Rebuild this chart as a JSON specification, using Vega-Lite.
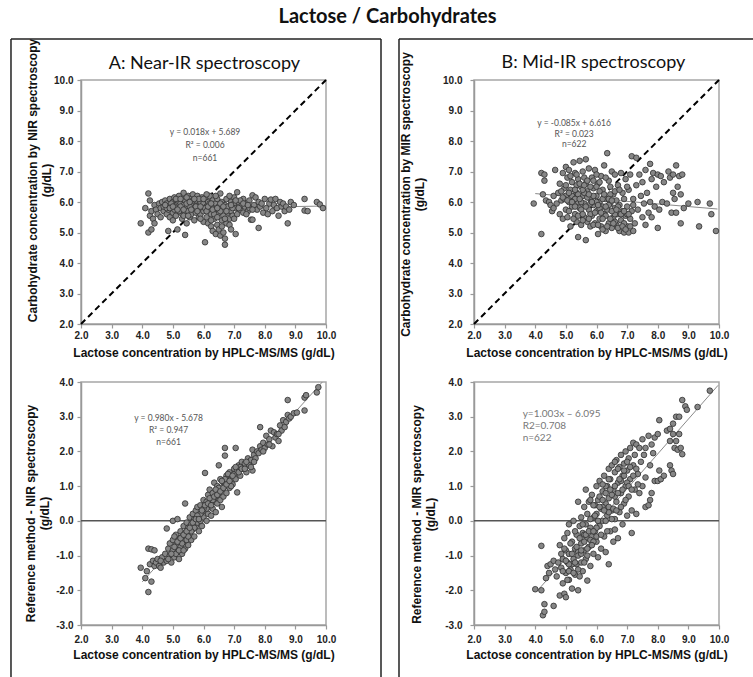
{
"$schema": "https://vega.github.io/schema/vega-lite/v6.json",
"padding": {"left": 9, "top": 6, "right": 0, "bottom": 0},
"background": "white",
"title": {"text": "Lactose / Carbohydrates", "font": "Lato", "fontSize": 20, "fontWeight": "bold", "color": "#111", "offset": 9, "anchor": "start", "dx": 269},
"bounds": "flush",
"columns": 2,
"spacing": {"row": 58, "column": 148},
"datasets": {
"one": [{"k": 1}],
"aTop": [
{"lac":3.95,"val":5.3},{"lac":4.1,"val":5.8},{"lac":4.2,"val":6.28},{"lac":4.2,"val":5.0},{"lac":4.25,"val":5.55},{"lac":4.25,"val":6.05},{"lac":4.3,"val":5.1},{"lac":4.3,"val":5.7},{"lac":4.35,"val":5.45},{"lac":4.4,"val":5.3},{"lac":4.4,"val":5.9},{"lac":4.45,"val":5.75},{"lac":4.5,"val":5.6},{"lac":4.55,"val":5.95},{"lac":4.6,"val":5.8},{"lac":4.6,"val":5.5},
{"lac":4.65,"val":6.0},{"lac":4.7,"val":5.7},{"lac":4.7,"val":5.85},{"lac":4.75,"val":6.05},{"lac":4.8,"val":5.6},{"lac":4.8,"val":5.95},{"lac":4.85,"val":5.05},{"lac":4.85,"val":5.75},{"lac":4.9,"val":6.1},{"lac":4.9,"val":5.5},{"lac":4.95,"val":5.85},{"lac":5.0,"val":5.65},{"lac":5.0,"val":6.0},{"lac":5.0,"val":5.4},
{"lac":5.05,"val":6.15},{"lac":5.05,"val":5.75},{"lac":5.1,"val":5.9},{"lac":5.1,"val":5.55},{"lac":5.15,"val":6.05},{"lac":5.15,"val":5.1},{"lac":5.2,"val":5.8},{"lac":5.2,"val":6.2},{"lac":5.25,"val":5.65},{"lac":5.25,"val":5.95},{"lac":5.3,"val":6.1},{"lac":5.3,"val":5.45},{"lac":5.3,"val":5.75},{"lac":5.35,"val":6.3},{"lac":5.35,"val":5.9},{"lac":5.4,"val":5.6},{"lac":5.4,"val":4.92},{"lac":5.4,"val":6.05},{"lac":5.45,"val":5.8},{"lac":5.45,"val":5.3},{"lac":5.5,"val":6.2},{"lac":5.5,"val":5.7},{"lac":5.5,"val":5.95},
{"lac":5.55,"val":5.5},{"lac":5.55,"val":6.1},{"lac":5.6,"val":5.85},{"lac":5.6,"val":5.6},{"lac":5.65,"val":6.25},{"lac":5.65,"val":5.75},{"lac":5.7,"val":5.95},{"lac":5.7,"val":5.4},{"lac":5.75,"val":6.05},{"lac":5.75,"val":5.65},{"lac":5.8,"val":5.85},{"lac":5.8,"val":6.2},{"lac":5.85,"val":5.5},{"lac":5.85,"val":5.75},{"lac":5.9,"val":6.0},{"lac":5.9,"val":5.6},{"lac":5.95,"val":6.15},{"lac":5.95,"val":5.8},{"lac":6.0,"val":5.35},{"lac":6.0,"val":5.95},{"lac":6.0,"val":5.7},
{"lac":6.05,"val":6.1},{"lac":6.05,"val":4.68},{"lac":6.1,"val":5.85},{"lac":6.1,"val":5.5},{"lac":6.15,"val":6.0},{"lac":6.15,"val":5.3},{"lac":6.2,"val":5.75},{"lac":6.2,"val":6.2},{"lac":6.25,"val":5.6},{"lac":6.25,"val":5.2},{"lac":6.3,"val":5.9},{"lac":6.3,"val":5.05},{"lac":6.3,"val":6.05},{"lac":6.35,"val":5.45},{"lac":6.35,"val":5.75},{"lac":6.4,"val":4.95},{"lac":6.4,"val":5.95},{"lac":6.45,"val":5.25},{"lac":6.45,"val":6.1},{"lac":6.5,"val":5.65},{"lac":6.5,"val":5.1},{"lac":6.5,"val":5.85},
{"lac":6.55,"val":4.9},{"lac":6.55,"val":6.28},{"lac":6.6,"val":5.4},{"lac":6.6,"val":5.75},{"lac":6.6,"val":6.0},{"lac":6.65,"val":5.0},{"lac":6.65,"val":5.55},{"lac":6.7,"val":4.6},{"lac":6.7,"val":4.8},{"lac":6.7,"val":5.9},{"lac":6.75,"val":5.3},{"lac":6.75,"val":6.1},{"lac":6.8,"val":5.65},{"lac":6.8,"val":5.85},{"lac":6.85,"val":5.45},{"lac":6.9,"val":6.0},{"lac":6.9,"val":5.7},{"lac":6.95,"val":5.55},{"lac":7.0,"val":5.95},{"lac":7.0,"val":6.15},
{"lac":7.05,"val":4.95},{"lac":7.05,"val":5.8},{"lac":7.1,"val":6.32},{"lac":7.1,"val":5.6},{"lac":7.15,"val":6.0},{"lac":7.2,"val":5.75},{"lac":7.25,"val":5.9},{"lac":7.3,"val":5.65},{"lac":7.3,"val":6.1},{"lac":7.35,"val":5.85},{"lac":7.4,"val":5.95},{"lac":7.45,"val":5.7},{"lac":7.5,"val":6.05},{"lac":7.5,"val":5.8},
{"lac":7.55,"val":5.42},{"lac":7.6,"val":5.42},{"lac":7.6,"val":6.22},{"lac":7.65,"val":5.9},{"lac":7.7,"val":6.15},{"lac":7.75,"val":5.75},{"lac":7.8,"val":5.15},{"lac":7.8,"val":6.0},{"lac":7.85,"val":5.85},{"lac":7.9,"val":5.95},{"lac":7.95,"val":5.65},{"lac":8.0,"val":6.1},
{"lac":8.05,"val":5.8},{"lac":8.1,"val":5.6},{"lac":8.15,"val":5.95},{"lac":8.2,"val":6.08},{"lac":8.25,"val":5.7},{"lac":8.3,"val":5.9},{"lac":8.35,"val":6.1},{"lac":8.4,"val":5.8},{"lac":8.45,"val":5.55},{"lac":8.5,"val":6.0},{"lac":8.55,"val":5.85},{"lac":8.6,"val":5.95},{"lac":8.65,"val":5.7},{"lac":8.7,"val":5.85},{"lac":8.75,"val":5.3},{"lac":8.8,"val":5.75},{"lac":8.85,"val":6.0},{"lac":8.95,"val":5.9},
{"lac":9.3,"val":6.1},{"lac":9.3,"val":5.72},{"lac":9.4,"val":5.7},{"lac":9.7,"val":6.0},{"lac":9.8,"val":5.92},{"lac":9.9,"val":5.8},
{"lac":4.95,"val":5.95},{"lac":5.05,"val":5.85},{"lac":5.2,"val":5.7},{"lac":5.35,"val":5.55},{"lac":5.45,"val":6.15},{"lac":5.6,"val":5.95},{"lac":5.75,"val":5.85},{"lac":5.85,"val":6.1},{"lac":6.05,"val":5.8},{"lac":6.2,"val":5.95},{"lac":6.35,"val":5.6},{"lac":6.4,"val":6.2},{"lac":6.6,"val":5.2},{"lac":6.85,"val":6.2},{"lac":7.0,"val":5.45},{"lac":7.2,"val":6.05},{"lac":7.4,"val":5.6},{"lac":5.25,"val":5.85},{"lac":5.55,"val":5.85},{"lac":5.9,"val":5.45},{"lac":6.1,"val":6.25},{"lac":6.55,"val":5.7},{"lac":4.8,"val":5.8},{"lac":5.65,"val":6.05},{"lac":6.95,"val":5.8},
{"lac":4.75,"val":5.9},{"lac":4.9,"val":5.8},{"lac":5.0,"val":5.85},{"lac":5.1,"val":6.1},{"lac":5.15,"val":5.75},{"lac":5.25,"val":6.1},{"lac":5.35,"val":5.75},{"lac":5.45,"val":5.95},{"lac":5.55,"val":6.0},{"lac":5.6,"val":5.75},{"lac":5.7,"val":6.1},{"lac":5.8,"val":5.7},{"lac":5.9,"val":5.85},{"lac":6.0,"val":6.1},{"lac":6.1,"val":5.7},{"lac":6.15,"val":5.85},{"lac":6.25,"val":5.95},{"lac":6.3,"val":5.75},{"lac":6.45,"val":5.8},{"lac":6.55,"val":5.95},{"lac":6.65,"val":5.85},{"lac":6.75,"val":5.7},{"lac":6.9,"val":5.9},{"lac":7.05,"val":6.05},{"lac":7.15,"val":5.8},{"lac":7.3,"val":5.95},{"lac":7.45,"val":5.9},{"lac":7.6,"val":5.75},{"lac":5.5,"val":5.55},{"lac":6.25,"val":5.4},{"lac":6.45,"val":5.5},{"lac":6.7,"val":5.45},{"lac":6.85,"val":5.25},{"lac":6.9,"val":5.1}
],
"aBot": [
{"lac":3.95,"val":-1.35},{"lac":4.1,"val":-1.65},{"lac":4.15,"val":-1.45},{"lac":4.2,"val":-2.05},{"lac":4.2,"val":-0.8},{"lac":4.25,"val":-1.25},{"lac":4.3,"val":-0.82},{"lac":4.3,"val":-1.75},{"lac":4.35,"val":-1.15},{"lac":4.4,"val":-0.85},{"lac":4.4,"val":-1.3},{"lac":4.45,"val":-1.2},{"lac":4.5,"val":-1.1},{"lac":4.55,"val":-1.3},{"lac":4.6,"val":-1.35},{"lac":4.65,"val":-1.05},{"lac":4.7,"val":-1.2},{"lac":4.75,"val":-0.95},{"lac":4.8,"val":-0.22},{"lac":4.8,"val":-1.15},{"lac":4.85,"val":-0.8},{"lac":4.9,"val":-1.0},{"lac":4.9,"val":-0.65},{"lac":4.95,"val":-1.2},{"lac":5.0,"val":0.0},{"lac":5.0,"val":-0.85},{"lac":5.0,"val":-0.55},{"lac":5.05,"val":-1.05},{"lac":5.1,"val":-0.7},{"lac":5.1,"val":-0.4},{"lac":5.15,"val":-0.9},{"lac":5.15,"val":0.05},{"lac":5.2,"val":-0.55},{"lac":5.2,"val":-1.1},{"lac":5.25,"val":-0.3},{"lac":5.25,"val":-0.75},{"lac":5.3,"val":-0.95},{"lac":5.3,"val":-0.45},{"lac":5.35,"val":-0.6},{"lac":5.35,"val":-0.15},{"lac":5.4,"val":0.5},{"lac":5.4,"val":-0.8},{"lac":5.4,"val":-0.35},{"lac":5.45,"val":-0.05},{"lac":5.45,"val":-0.55},{"lac":5.5,"val":-0.2},{"lac":5.5,"val":-0.7},{"lac":5.55,"val":0.1},{"lac":5.55,"val":-0.4},{"lac":5.6,"val":-0.1},{"lac":5.6,"val":-0.55},{"lac":5.65,"val":0.2},{"lac":5.65,"val":-0.25},{"lac":5.7,"val":-0.45},{"lac":5.7,"val":0.05},{"lac":5.75,"val":0.3},{"lac":5.75,"val":-0.15},{"lac":5.8,"val":-0.05},{"lac":5.8,"val":0.4},{"lac":5.85,"val":0.15},{"lac":5.85,"val":-0.3},{"lac":5.9,"val":0.0},{"lac":5.9,"val":0.45},{"lac":5.95,"val":0.25},{"lac":5.95,"val":-0.15},{"lac":6.0,"val":0.1},{"lac":6.0,"val":0.6},{"lac":6.05,"val":1.38},{"lac":6.05,"val":0.3},{"lac":6.1,"val":0.0},{"lac":6.1,"val":0.55},{"lac":6.15,"val":0.75},{"lac":6.15,"val":0.2},{"lac":6.2,"val":0.4},{"lac":6.2,"val":0.9},{"lac":6.25,"val":0.6},{"lac":6.25,"val":0.15},{"lac":6.3,"val":0.8},{"lac":6.3,"val":0.35},{"lac":6.35,"val":1.1},{"lac":6.35,"val":0.55},{"lac":6.4,"val":0.7},{"lac":6.4,"val":0.25},{"lac":6.45,"val":1.0},{"lac":6.45,"val":0.5},{"lac":6.5,"val":1.6},{"lac":6.5,"val":0.8},{"lac":6.55,"val":0.6},{"lac":6.55,"val":1.2},{"lac":6.6,"val":0.9},{"lac":6.6,"val":0.4},{"lac":6.65,"val":1.1},{"lac":6.65,"val":0.7},{"lac":6.7,"val":2.1},{"lac":6.7,"val":1.88},{"lac":6.7,"val":1.0},{"lac":6.75,"val":0.8},{"lac":6.75,"val":1.3},{"lac":6.8,"val":1.1},{"lac":6.85,"val":0.95},{"lac":6.85,"val":1.4},{"lac":6.9,"val":1.2},{"lac":6.95,"val":1.05},{"lac":7.0,"val":1.35},{"lac":7.0,"val":1.5},{"lac":7.05,"val":2.1},{"lac":7.05,"val":1.2},{"lac":7.1,"val":0.82},{"lac":7.1,"val":1.45},{"lac":7.15,"val":1.6},{"lac":7.2,"val":1.3},{"lac":7.25,"val":1.7},{"lac":7.3,"val":1.5},{"lac":7.35,"val":1.65},{"lac":7.4,"val":1.4},{"lac":7.45,"val":1.8},{"lac":7.5,"val":1.6},{"lac":7.55,"val":1.75},{"lac":7.6,"val":2.05},{"lac":7.6,"val":1.45},{"lac":7.65,"val":1.9},{"lac":7.7,"val":1.8},{"lac":7.75,"val":2.0},{"lac":7.8,"val":1.95},{"lac":7.85,"val":2.7},{"lac":7.85,"val":2.15},{"lac":7.9,"val":2.05},{"lac":7.95,"val":2.25},{"lac":8.0,"val":2.1},{"lac":8.05,"val":2.45},{"lac":8.1,"val":2.2},{"lac":8.15,"val":2.35},{"lac":8.2,"val":2.6},{"lac":8.25,"val":2.15},{"lac":8.3,"val":2.55},{"lac":8.35,"val":2.4},{"lac":8.4,"val":2.5},{"lac":8.45,"val":2.3},{"lac":8.5,"val":2.75},{"lac":8.55,"val":2.6},{"lac":8.6,"val":2.9},{"lac":8.65,"val":2.7},{"lac":8.7,"val":2.85},{"lac":8.75,"val":3.48},{"lac":8.75,"val":3.05},{"lac":8.8,"val":2.95},{"lac":8.85,"val":3.0},{"lac":8.95,"val":3.1},{"lac":9.05,"val":3.12},{"lac":9.3,"val":3.18},{"lac":9.3,"val":3.55},{"lac":9.35,"val":3.62},{"lac":9.7,"val":3.7},{"lac":9.75,"val":3.85},
{"lac":5.1,"val":-0.95},{"lac":5.3,"val":-0.65},{"lac":5.5,"val":-0.45},{"lac":5.7,"val":-0.2},{"lac":5.9,"val":0.2},{"lac":6.1,"val":0.35},{"lac":6.3,"val":0.6},{"lac":6.5,"val":0.95},{"lac":6.7,"val":1.2},{"lac":6.9,"val":1.0},{"lac":7.2,"val":1.55},{"lac":7.4,"val":1.7},{"lac":5.6,"val":-0.3},{"lac":5.8,"val":0.15},{"lac":6.0,"val":0.35},{"lac":6.2,"val":0.65},{"lac":6.4,"val":0.9},{"lac":6.6,"val":1.15},{"lac":4.95,"val":-0.95},{"lac":5.2,"val":-0.85},{"lac":6.8,"val":1.35},{"lac":7.05,"val":1.55},
{"lac":5.05,"val":-0.75},{"lac":5.15,"val":-0.6},{"lac":5.25,"val":-0.5},{"lac":5.35,"val":-0.4},{"lac":5.45,"val":-0.3},{"lac":5.55,"val":-0.2},{"lac":5.65,"val":-0.05},{"lac":5.75,"val":0.05},{"lac":5.85,"val":0.05},{"lac":5.95,"val":0.3},{"lac":6.05,"val":0.45},{"lac":6.15,"val":0.5},{"lac":6.25,"val":0.45},{"lac":6.35,"val":0.7},{"lac":6.45,"val":0.75},{"lac":6.55,"val":0.85},{"lac":6.65,"val":0.95},{"lac":6.75,"val":1.05},{"lac":6.85,"val":1.15},{"lac":6.95,"val":1.3},{"lac":7.15,"val":1.4},{"lac":7.25,"val":1.5},{"lac":7.35,"val":1.5},{"lac":7.55,"val":1.55},{"lac":7.65,"val":1.7},{"lac":7.95,"val":2.0},{"lac":8.15,"val":2.2},{"lac":8.45,"val":2.5},{"lac":4.6,"val":-1.15},{"lac":4.85,"val":-1.1},{"lac":5.05,"val":-0.45},{"lac":5.35,"val":-0.85}
],
"bTop": [
{"lac":3.95,"val":5.95},{"lac":4.2,"val":6.95},{"lac":4.2,"val":4.95},{"lac":4.25,"val":6.25},{"lac":4.3,"val":6.7},{"lac":4.3,"val":6.9},{"lac":4.35,"val":6.05},{"lac":4.45,"val":6.0},{"lac":4.5,"val":5.9},{"lac":4.55,"val":5.7},{"lac":4.6,"val":5.8},{"lac":4.6,"val":6.2},{"lac":4.65,"val":7.05},{"lac":4.7,"val":5.95},{"lac":4.75,"val":6.3},{"lac":4.8,"val":5.6},{"lac":4.8,"val":6.6},{"lac":4.85,"val":6.05},{"lac":4.9,"val":6.95},{"lac":4.9,"val":5.45},{"lac":4.95,"val":6.45},{"lac":5.0,"val":5.75},{"lac":5.0,"val":7.15},{"lac":5.0,"val":6.2},{"lac":5.05,"val":5.5},{"lac":5.05,"val":6.8},{"lac":5.1,"val":6.0},{"lac":5.1,"val":7.05},{"lac":5.15,"val":5.2},{"lac":5.15,"val":6.4},{"lac":5.2,"val":6.65},{"lac":5.2,"val":5.85},{"lac":5.25,"val":6.15},{"lac":5.25,"val":7.3},{"lac":5.3,"val":5.6},{"lac":5.3,"val":6.95},{"lac":5.35,"val":6.3},{"lac":5.35,"val":5.35},{"lac":5.4,"val":4.85},{"lac":5.4,"val":6.0},{"lac":5.4,"val":6.75},{"lac":5.45,"val":7.35},{"lac":5.45,"val":5.8},{"lac":5.5,"val":6.5},{"lac":5.5,"val":5.25},{"lac":5.55,"val":6.2},{"lac":5.55,"val":7.0},{"lac":5.6,"val":5.5},{"lac":5.6,"val":5.95},{"lac":5.65,"val":4.75},{"lac":5.65,"val":7.4},{"lac":5.65,"val":6.6},{"lac":5.7,"val":5.35},{"lac":5.7,"val":6.35},{"lac":5.75,"val":5.75},{"lac":5.75,"val":7.1},{"lac":5.8,"val":6.1},{"lac":5.8,"val":5.2},{"lac":5.85,"val":6.8},{"lac":5.85,"val":5.55},{"lac":5.9,"val":6.45},{"lac":5.9,"val":5.9},{"lac":5.95,"val":7.05},{"lac":5.95,"val":5.3},{"lac":6.0,"val":6.2},{"lac":6.0,"val":5.7},{"lac":6.05,"val":4.95},{"lac":6.05,"val":6.6},{"lac":6.1,"val":5.45},{"lac":6.1,"val":6.0},{"lac":6.15,"val":6.85},{"lac":6.15,"val":5.2},{"lac":6.2,"val":5.85},{"lac":6.2,"val":6.4},{"lac":6.25,"val":7.2},{"lac":6.25,"val":5.6},{"lac":6.3,"val":5.05},{"lac":6.3,"val":6.1},{"lac":6.35,"val":7.6},{"lac":6.35,"val":5.75},{"lac":6.4,"val":6.7},{"lac":6.4,"val":5.3},{"lac":6.45,"val":5.95},{"lac":6.45,"val":6.5},{"lac":6.5,"val":5.15},{"lac":6.5,"val":7.0},{"lac":6.55,"val":5.5},{"lac":6.55,"val":6.25},{"lac":6.6,"val":5.8},{"lac":6.6,"val":6.9},{"lac":6.65,"val":5.25},{"lac":6.65,"val":6.05},{"lac":6.7,"val":5.6},{"lac":6.7,"val":6.55},{"lac":6.75,"val":5.05},{"lac":6.75,"val":5.9},{"lac":6.8,"val":6.95},{"lac":6.8,"val":5.4},{"lac":6.85,"val":6.3},{"lac":6.85,"val":5.7},{"lac":6.9,"val":5.0},{"lac":6.9,"val":6.1},{"lac":6.95,"val":5.55},{"lac":6.95,"val":6.75},{"lac":7.0,"val":5.2},{"lac":7.0,"val":5.85},{"lac":7.05,"val":6.4},{"lac":7.05,"val":5.0},{"lac":7.1,"val":6.9},{"lac":7.1,"val":5.45},{"lac":7.15,"val":7.5},{"lac":7.15,"val":5.7},{"lac":7.2,"val":6.1},{"lac":7.2,"val":5.05},{"lac":7.25,"val":5.3},{"lac":7.3,"val":7.45},{"lac":7.3,"val":6.55},{"lac":7.35,"val":5.75},{"lac":7.4,"val":6.9},{"lac":7.45,"val":6.2},{"lac":7.5,"val":5.5},{"lac":7.5,"val":6.65},{"lac":7.55,"val":5.95},{"lac":7.6,"val":7.05},{"lac":7.6,"val":5.25},{"lac":7.65,"val":6.3},{"lac":7.7,"val":5.65},{"lac":7.75,"val":7.25},{"lac":7.75,"val":6.0},{"lac":7.8,"val":5.5},{"lac":7.8,"val":6.75},{"lac":7.85,"val":6.95},{"lac":7.9,"val":5.85},{"lac":7.95,"val":6.5},{"lac":8.0,"val":5.15},{"lac":8.0,"val":6.9},{"lac":8.05,"val":5.75},{"lac":8.1,"val":6.85},{"lac":8.15,"val":6.0},{"lac":8.2,"val":6.65},{"lac":8.3,"val":5.95},{"lac":8.35,"val":7.0},{"lac":8.4,"val":6.8},{"lac":8.45,"val":5.65},{"lac":8.5,"val":6.3},{"lac":8.5,"val":6.9},{"lac":8.55,"val":6.1},{"lac":8.6,"val":7.2},{"lac":8.6,"val":5.65},{"lac":8.65,"val":6.5},{"lac":8.7,"val":6.85},{"lac":8.75,"val":5.3},{"lac":8.75,"val":6.25},{"lac":8.8,"val":6.9},{"lac":8.85,"val":5.8},{"lac":9.0,"val":5.95},{"lac":9.3,"val":6.0},{"lac":9.35,"val":5.2},{"lac":9.7,"val":5.95},{"lac":9.75,"val":5.6},{"lac":9.9,"val":5.05},
{"lac":5.2,"val":6.2},{"lac":5.4,"val":6.25},{"lac":5.6,"val":6.3},{"lac":5.8,"val":5.95},{"lac":6.0,"val":6.0},{"lac":6.2,"val":6.1},{"lac":6.4,"val":5.9},{"lac":6.6,"val":5.6},{"lac":5.3,"val":6.1},{"lac":5.5,"val":6.0},{"lac":5.7,"val":6.15},{"lac":5.9,"val":6.2},{"lac":6.1,"val":5.8},{"lac":6.3,"val":5.55},{"lac":6.5,"val":5.7},{"lac":6.7,"val":5.85},{"lac":5.1,"val":6.3},{"lac":5.6,"val":6.8},{"lac":6.0,"val":6.5},{"lac":6.3,"val":6.8},{"lac":5.8,"val":5.6},{"lac":6.2,"val":5.45},{"lac":6.6,"val":5.35},{"lac":6.9,"val":5.3},{"lac":7.0,"val":5.6},{"lac":4.95,"val":6.1},{"lac":5.35,"val":6.55},{"lac":6.45,"val":6.25},
{"lac":4.85,"val":6.35},{"lac":4.9,"val":6.15},{"lac":5.0,"val":6.55},{"lac":5.05,"val":6.05},{"lac":5.1,"val":5.7},{"lac":5.15,"val":6.85},{"lac":5.2,"val":6.0},{"lac":5.25,"val":5.45},{"lac":5.3,"val":6.4},{"lac":5.3,"val":5.85},{"lac":5.35,"val":6.9},{"lac":5.4,"val":5.55},{"lac":5.45,"val":6.1},{"lac":5.45,"val":6.6},{"lac":5.5,"val":5.75},{"lac":5.55,"val":5.4},{"lac":5.55,"val":6.4},{"lac":5.6,"val":6.55},{"lac":5.65,"val":5.85},{"lac":5.7,"val":6.7},{"lac":5.75,"val":6.25},{"lac":5.75,"val":5.45},{"lac":5.8,"val":6.5},{"lac":5.85,"val":6.0},{"lac":5.9,"val":5.25},{"lac":5.9,"val":6.7},{"lac":5.95,"val":5.65},{"lac":6.0,"val":6.9},{"lac":6.05,"val":5.9},{"lac":6.05,"val":5.25},{"lac":6.1,"val":6.35},{"lac":6.15,"val":5.65},{"lac":6.2,"val":5.1},{"lac":6.25,"val":6.25},{"lac":6.3,"val":5.85},{"lac":6.35,"val":5.2},{"lac":6.4,"val":6.1},{"lac":6.45,"val":5.45},{"lac":6.5,"val":6.05},{"lac":6.55,"val":5.3},{"lac":6.6,"val":6.35},{"lac":6.65,"val":5.75},{"lac":6.7,"val":5.15},{"lac":6.75,"val":6.4},{"lac":6.8,"val":5.6},{"lac":6.85,"val":5.2},{"lac":6.9,"val":5.7},{"lac":6.95,"val":5.1},{"lac":7.0,"val":6.5},{"lac":7.05,"val":5.6},{"lac":7.1,"val":5.2},{"lac":7.2,"val":5.9},{"lac":5.55,"val":5.6},{"lac":6.1,"val":6.65}
],
"bBot": [
{"lac":4.0,"val":-1.97},{"lac":4.2,"val":-0.72},{"lac":4.2,"val":-2.0},{"lac":4.25,"val":-2.72},{"lac":4.3,"val":-2.62},{"lac":4.3,"val":-2.4},{"lac":4.35,"val":-1.65},{"lac":4.4,"val":-1.3},{"lac":4.45,"val":-1.5},{"lac":4.5,"val":-1.25},{"lac":4.6,"val":-2.45},{"lac":4.6,"val":-1.15},{"lac":4.65,"val":-1.4},{"lac":4.7,"val":-1.6},{"lac":4.75,"val":-1.2},{"lac":4.8,"val":-0.7},{"lac":4.8,"val":-2.15},{"lac":4.85,"val":-1.35},{"lac":4.85,"val":-0.95},{"lac":4.9,"val":-1.8},{"lac":4.9,"val":-1.1},{"lac":4.95,"val":-0.5},{"lac":4.95,"val":-2.1},{"lac":5.0,"val":-1.5},{"lac":5.0,"val":-0.85},{"lac":5.0,"val":-2.2},{"lac":5.05,"val":-1.2},{"lac":5.05,"val":-0.35},{"lac":5.1,"val":-0.1},{"lac":5.1,"val":-1.7},{"lac":5.1,"val":-0.95},{"lac":5.15,"val":-1.4},{"lac":5.2,"val":-0.6},{"lac":5.2,"val":-1.95},{"lac":5.25,"val":-1.1},{"lac":5.25,"val":0.0},{"lac":5.3,"val":-0.8},{"lac":5.3,"val":-1.55},{"lac":5.35,"val":-0.4},{"lac":5.35,"val":-1.25},{"lac":5.4,"val":0.55},{"lac":5.4,"val":-2.0},{"lac":5.4,"val":-0.9},{"lac":5.45,"val":-0.15},{"lac":5.45,"val":-1.6},{"lac":5.5,"val":-0.65},{"lac":5.5,"val":0.1},{"lac":5.5,"val":-1.2},{"lac":5.55,"val":-0.35},{"lac":5.55,"val":-1.45},{"lac":5.6,"val":0.4},{"lac":5.6,"val":-0.85},{"lac":5.65,"val":0.9},{"lac":5.65,"val":-0.1},{"lac":5.65,"val":-1.1},{"lac":5.7,"val":-1.72},{"lac":5.7,"val":-0.5},{"lac":5.7,"val":0.2},{"lac":5.75,"val":-0.75},{"lac":5.75,"val":0.55},{"lac":5.8,"val":-0.2},{"lac":5.8,"val":-1.3},{"lac":5.85,"val":0.75},{"lac":5.85,"val":-0.45},{"lac":5.9,"val":0.1},{"lac":5.9,"val":-0.95},{"lac":5.95,"val":0.45},{"lac":5.95,"val":-0.3},{"lac":6.0,"val":1.0},{"lac":6.0,"val":-0.6},{"lac":6.0,"val":0.2},{"lac":6.05,"val":-1.05},{"lac":6.05,"val":0.6},{"lac":6.1,"val":1.15},{"lac":6.1,"val":-0.15},{"lac":6.15,"val":0.35},{"lac":6.15,"val":-0.8},{"lac":6.2,"val":0.85},{"lac":6.2,"val":0.0},{"lac":6.25,"val":1.3},{"lac":6.25,"val":-0.45},{"lac":6.3,"val":0.5},{"lac":6.3,"val":-0.9},{"lac":6.35,"val":1.0},{"lac":6.35,"val":0.15},{"lac":6.4,"val":-1.25},{"lac":6.4,"val":1.5},{"lac":6.4,"val":0.65},{"lac":6.45,"val":-0.3},{"lac":6.45,"val":1.2},{"lac":6.5,"val":0.3},{"lac":6.5,"val":1.6},{"lac":6.55,"val":-0.6},{"lac":6.55,"val":0.9},{"lac":6.6,"val":1.4},{"lac":6.6,"val":0.05},{"lac":6.65,"val":1.75},{"lac":6.65,"val":0.55},{"lac":6.7,"val":-0.5},{"lac":6.7,"val":1.1},{"lac":6.75,"val":1.55},{"lac":6.75,"val":0.25},{"lac":6.8,"val":1.9},{"lac":6.8,"val":0.8},{"lac":6.85,"val":-0.1},{"lac":6.85,"val":1.3},{"lac":6.9,"val":1.65},{"lac":6.9,"val":0.5},{"lac":6.95,"val":2.0},{"lac":6.95,"val":1.0},{"lac":7.0,"val":0.15},{"lac":7.0,"val":1.45},{"lac":7.05,"val":1.8},{"lac":7.05,"val":0.7},{"lac":7.1,"val":2.1},{"lac":7.1,"val":1.2},{"lac":7.15,"val":-0.35},{"lac":7.15,"val":0.3},{"lac":7.2,"val":2.25},{"lac":7.2,"val":1.6},{"lac":7.25,"val":0.9},{"lac":7.3,"val":2.2},{"lac":7.3,"val":0.2},{"lac":7.35,"val":1.35},{"lac":7.4,"val":2.1},{"lac":7.4,"val":0.8},{"lac":7.45,"val":1.7},{"lac":7.5,"val":2.35},{"lac":7.5,"val":1.0},{"lac":7.55,"val":1.9},{"lac":7.6,"val":0.4},{"lac":7.6,"val":2.1},{"lac":7.6,"val":1.25},{"lac":7.7,"val":0.45},{"lac":7.7,"val":2.45},{"lac":7.75,"val":0.6},{"lac":7.75,"val":1.6},{"lac":7.8,"val":0.8},{"lac":7.8,"val":2.2},{"lac":7.85,"val":1.95},{"lac":7.9,"val":1.15},{"lac":7.9,"val":2.4},{"lac":8.0,"val":1.15},{"lac":8.0,"val":2.5},{"lac":8.05,"val":1.45},{"lac":8.05,"val":2.9},{"lac":8.1,"val":1.2},{"lac":8.2,"val":1.3},{"lac":8.3,"val":2.6},{"lac":8.4,"val":1.6},{"lac":8.4,"val":2.3},{"lac":8.4,"val":2.65},{"lac":8.45,"val":1.45},{"lac":8.5,"val":1.35},{"lac":8.5,"val":2.5},{"lac":8.5,"val":2.8},{"lac":8.55,"val":2.1},{"lac":8.6,"val":2.3},{"lac":8.6,"val":3.0},{"lac":8.65,"val":2.05},{"lac":8.7,"val":2.5},{"lac":8.7,"val":3.0},{"lac":8.75,"val":2.1},{"lac":8.8,"val":1.92},{"lac":8.8,"val":3.48},{"lac":8.9,"val":3.3},{"lac":8.95,"val":3.2},{"lac":9.3,"val":3.28},{"lac":9.7,"val":3.75},
{"lac":5.2,"val":-1.25},{"lac":5.4,"val":-1.0},{"lac":5.6,"val":-0.4},{"lac":5.8,"val":-0.55},{"lac":6.0,"val":-0.2},{"lac":6.2,"val":0.4},{"lac":6.4,"val":0.25},{"lac":6.6,"val":0.7},{"lac":6.8,"val":1.15},{"lac":7.0,"val":1.1},{"lac":5.3,"val":-0.3},{"lac":5.5,"val":-0.95},{"lac":5.7,"val":-1.0},{"lac":5.9,"val":0.45},{"lac":6.1,"val":0.7},{"lac":6.3,"val":1.0},{"lac":6.5,"val":0.75},{"lac":6.7,"val":1.5},{"lac":6.9,"val":1.3},{"lac":5.1,"val":-1.25},{"lac":5.9,"val":-0.6},{"lac":6.3,"val":0.0},{"lac":6.6,"val":-0.25},{"lac":7.2,"val":1.3},
{"lac":4.9,"val":-1.45},{"lac":4.95,"val":-0.8},{"lac":5.0,"val":-1.15},{"lac":5.05,"val":-1.7},{"lac":5.1,"val":-1.45},{"lac":5.15,"val":-0.65},{"lac":5.2,"val":-0.95},{"lac":5.25,"val":-1.5},{"lac":5.3,"val":-1.2},{"lac":5.35,"val":-0.75},{"lac":5.4,"val":-1.4},{"lac":5.45,"val":-0.5},{"lac":5.5,"val":-0.85},{"lac":5.55,"val":-0.1},{"lac":5.6,"val":-1.2},{"lac":5.6,"val":-0.6},{"lac":5.65,"val":-0.4},{"lac":5.7,"val":-0.8},{"lac":5.75,"val":-0.3},{"lac":5.8,"val":0.05},{"lac":5.85,"val":-0.7},{"lac":5.9,"val":-0.3},{"lac":5.95,"val":0.15},{"lac":6.0,"val":-0.45},{"lac":6.05,"val":0.0},{"lac":6.1,"val":0.4},{"lac":6.15,"val":-0.4},{"lac":6.2,"val":0.6},{"lac":6.25,"val":0.3},{"lac":6.3,"val":0.8},{"lac":6.35,"val":-0.3},{"lac":6.4,"val":0.4},{"lac":6.45,"val":0.9},{"lac":6.5,"val":0.05},{"lac":6.55,"val":0.35},{"lac":6.6,"val":1.0},{"lac":6.65,"val":0.3},{"lac":6.7,"val":0.8},{"lac":6.75,"val":1.2},{"lac":6.8,"val":0.4},{"lac":6.85,"val":0.9},{"lac":6.9,"val":1.45},{"lac":6.95,"val":0.6},{"lac":7.0,"val":1.7},{"lac":7.05,"val":1.0},{"lac":7.1,"val":1.55},{"lac":7.15,"val":0.9},{"lac":7.25,"val":1.9},{"lac":7.3,"val":1.5},{"lac":7.35,"val":1.05},{"lac":6.2,"val":1.05},{"lac":6.4,"val":1.2},{"lac":6.6,"val":1.7},{"lac":5.8,"val":0.6}
]
},
"concat": [
{
"width": 245, "height": 244,
"layer": [
{"data": {"name": "one"}, "mark": {"type": "rule", "color": "#000", "strokeWidth": 2, "strokeDash": [6, 4]}, "encoding": {"x": {"datum": 2, "type": "quantitative", "scale": {"domain": [2, 10], "nice": false}}, "y": {"datum": 2, "type": "quantitative", "scale": {"domain": [2, 10], "nice": false}}, "x2": {"datum": 10}, "y2": {"datum": 10}}},
{"data": {"name": "one"}, "mark": {"type": "rule", "color": "#8a8a8a", "strokeWidth": 1}, "encoding": {"x": {"datum": 4.0, "type": "quantitative", "scale": {"domain": [2, 10], "nice": false}}, "y": {"datum": 5.761, "type": "quantitative", "scale": {"domain": [2, 10], "nice": false}}, "x2": {"datum": 10}, "y2": {"datum": 5.869}}},
{"data": {"name": "aTop"}, "mark": {"type": "circle", "size": 32, "color": "#868686", "opacity": 1, "stroke": "#2e2e2e", "strokeWidth": 0.8},
 "encoding": {
 "x": {"field": "lac", "type": "quantitative", "scale": {"domain": [2, 10], "nice": false}, "axis": {"format": ".1f", "title": "Lactose concentration by HPLC-MS/MS (g/dL)", "labelPadding": 2, "titlePadding": 7}},
 "y": {"field": "val", "type": "quantitative", "scale": {"domain": [2, 10], "nice": false}, "axis": {"format": ".1f", "title": ["Carbohydrate  concentration by NIR spectroscopy", "(g/dL)"], "labelPadding": 4, "titlePadding": 0, "titleY": 100}}
 }},
{"data": {"name": "one"}, "mark": {"type": "text", "text": ["y = 0.018x + 5.689", "R² = 0.006", "n=661"], "font": "Lato", "fontSize": 8.5, "color": "#555", "align": "center", "baseline": "top", "lineHeight": 13}, "encoding": {"x": {"datum": 6.05, "type": "quantitative", "scale": {"domain": [2, 10], "nice": false}}, "y": {"datum": 8.43, "type": "quantitative", "scale": {"domain": [2, 10], "nice": false}}}},
{"data": {"name": "one"}, "mark": {"type": "text", "text": "A: Near-IR spectroscopy", "font": "Lato", "fontSize": 18, "color": "#111", "align": "center", "baseline": "middle"}, "encoding": {"x": {"datum": 6.03, "type": "quantitative", "scale": {"domain": [2, 10], "nice": false}}, "y": {"datum": 10.52, "type": "quantitative", "scale": {"domain": [2, 10], "nice": false}}}}
]
},
{
"width": 245, "height": 244,
"layer": [
{"data": {"name": "one"}, "mark": {"type": "rule", "color": "#000", "strokeWidth": 2, "strokeDash": [6, 4]}, "encoding": {"x": {"datum": 2, "type": "quantitative", "scale": {"domain": [2, 10], "nice": false}}, "y": {"datum": 2, "type": "quantitative", "scale": {"domain": [2, 10], "nice": false}}, "x2": {"datum": 10}, "y2": {"datum": 10}}},
{"data": {"name": "one"}, "mark": {"type": "rule", "color": "#8a8a8a", "strokeWidth": 1}, "encoding": {"x": {"datum": 4.0, "type": "quantitative", "scale": {"domain": [2, 10], "nice": false}}, "y": {"datum": 6.276, "type": "quantitative", "scale": {"domain": [2, 10], "nice": false}}, "x2": {"datum": 9.95}, "y2": {"datum": 5.770}}},
{"data": {"name": "bTop"}, "mark": {"type": "circle", "size": 32, "color": "#868686", "opacity": 1, "stroke": "#2e2e2e", "strokeWidth": 0.8},
 "encoding": {
 "x": {"field": "lac", "type": "quantitative", "scale": {"domain": [2, 10], "nice": false}, "axis": {"format": ".1f", "title": "Lactose concentration by HPLC-MS/MS (g/dL)", "labelPadding": 2, "titlePadding": 7}},
 "y": {"field": "val", "type": "quantitative", "scale": {"domain": [2, 10], "nice": false}, "axis": {"format": ".1f", "title": ["Carbohydrate  concentration by MIR spectroscopy", "(g/dL)"], "labelPadding": 8, "titlePadding": 16, "titleY": 114}}
 }},
{"data": {"name": "one"}, "mark": {"type": "text", "text": ["y = -0.085x + 6.616", "R² = 0.023", "n=622"], "font": "Lato", "fontSize": 8.5, "color": "#555", "align": "center", "baseline": "top", "lineHeight": 10.5}, "encoding": {"x": {"datum": 5.27, "type": "quantitative", "scale": {"domain": [2, 10], "nice": false}}, "y": {"datum": 8.72, "type": "quantitative", "scale": {"domain": [2, 10], "nice": false}}}},
{"data": {"name": "one"}, "mark": {"type": "text", "text": "B: Mid-IR spectroscopy", "font": "Lato", "fontSize": 18, "color": "#111", "align": "center", "baseline": "middle"}, "encoding": {"x": {"datum": 5.9, "type": "quantitative", "scale": {"domain": [2, 10], "nice": false}}, "y": {"datum": 10.56, "type": "quantitative", "scale": {"domain": [2, 10], "nice": false}}}}
]
},
{
"width": 245, "height": 243,
"layer": [
{"data": {"name": "one"}, "mark": {"type": "rule", "color": "#555", "strokeWidth": 1.5}, "encoding": {"x": {"datum": 2, "type": "quantitative", "scale": {"domain": [2, 10], "nice": false}}, "x2": {"datum": 10}, "y": {"datum": 0, "type": "quantitative", "scale": {"domain": [-3, 4], "nice": false}}}},
{"data": {"name": "one"}, "mark": {"type": "rule", "color": "#8a8a8a", "strokeWidth": 1}, "encoding": {"x": {"datum": 4.0, "type": "quantitative", "scale": {"domain": [2, 10], "nice": false}}, "y": {"datum": -1.758, "type": "quantitative", "scale": {"domain": [-3, 4], "nice": false}}, "x2": {"datum": 9.88}, "y2": {"datum": 4.0}}},
{"data": {"name": "aBot"}, "mark": {"type": "circle", "size": 32, "color": "#868686", "opacity": 1, "stroke": "#2e2e2e", "strokeWidth": 0.8},
 "encoding": {
 "x": {"field": "lac", "type": "quantitative", "scale": {"domain": [2, 10], "nice": false}, "axis": {"format": ".1f", "title": "Lactose concentration by HPLC-MS/MS (g/dL)", "labelPadding": 5, "titlePadding": 5}},
 "y": {"field": "val", "type": "quantitative", "scale": {"domain": [-3, 4], "nice": false}, "axis": {"labelExpr": "replace(format(datum.value, '.1f'), '−', '-')", "title": ["Reference method - NIR spectroscopy", "(g/dL)"], "labelPadding": 4, "titlePadding": 4, "titleY": 131}}
 }},
{"data": {"name": "one"}, "mark": {"type": "text", "text": ["y = 0.980x - 5.678", "R² = 0.947", "n=661"], "font": "Lato", "fontSize": 8.5, "color": "#555", "align": "center", "baseline": "top", "lineHeight": 12}, "encoding": {"x": {"datum": 4.86, "type": "quantitative", "scale": {"domain": [2, 10], "nice": false}}, "y": {"datum": 3.09, "type": "quantitative", "scale": {"domain": [-3, 4], "nice": false}}}},
{"data": {"name": "one"}, "mark": {"type": "rule", "color": "#222", "strokeWidth": 1.5}, "encoding": {"x": {"datum": -0.286, "type": "quantitative", "scale": {"domain": [2, 10], "nice": false}}, "y": {"datum": 13.88, "type": "quantitative", "scale": {"domain": [-3, 4], "nice": false}}, "y2": {"datum": -4.5}}},
{"data": {"name": "one"}, "mark": {"type": "rule", "color": "#222", "strokeWidth": 1.5}, "encoding": {"x": {"datum": 11.796, "type": "quantitative", "scale": {"domain": [2, 10], "nice": false}}, "y": {"datum": 13.88, "type": "quantitative", "scale": {"domain": [-3, 4], "nice": false}}, "y2": {"datum": -4.5}}},
{"data": {"name": "one"}, "mark": {"type": "rule", "color": "#222", "strokeWidth": 1.5}, "encoding": {"x": {"datum": -0.286, "type": "quantitative", "scale": {"domain": [2, 10], "nice": false}}, "x2": {"datum": 11.796}, "y": {"datum": 13.88, "type": "quantitative", "scale": {"domain": [-3, 4], "nice": false}}}}
]
},
{
"width": 245, "height": 243,
"layer": [
{"data": {"name": "one"}, "mark": {"type": "rule", "color": "#555", "strokeWidth": 1.5}, "encoding": {"x": {"datum": 2, "type": "quantitative", "scale": {"domain": [2, 10], "nice": false}}, "x2": {"datum": 10}, "y": {"datum": 0, "type": "quantitative", "scale": {"domain": [-3, 4], "nice": false}}}},
{"data": {"name": "one"}, "mark": {"type": "rule", "color": "#8a8a8a", "strokeWidth": 1}, "encoding": {"x": {"datum": 4.1, "type": "quantitative", "scale": {"domain": [2, 10], "nice": false}}, "y": {"datum": -1.983, "type": "quantitative", "scale": {"domain": [-3, 4], "nice": false}}, "x2": {"datum": 9.97}, "y2": {"datum": 3.905}}},
{"data": {"name": "bBot"}, "mark": {"type": "circle", "size": 32, "color": "#868686", "opacity": 1, "stroke": "#2e2e2e", "strokeWidth": 0.8},
 "encoding": {
 "x": {"field": "lac", "type": "quantitative", "scale": {"domain": [2, 10], "nice": false}, "axis": {"format": ".1f", "title": "Lactose concentration by HPLC-MS/MS (g/dL)", "labelPadding": 5, "titlePadding": 5}},
 "y": {"field": "val", "type": "quantitative", "scale": {"domain": [-3, 4], "nice": false}, "axis": {"labelExpr": "replace(format(datum.value, '.1f'), '−', '-')", "title": ["Reference method - MIR spectroscopy", "(g/dL)"], "labelPadding": 8, "titlePadding": 7, "titleY": 132}}
 }},
{"data": {"name": "one"}, "mark": {"type": "text", "text": ["y=1.003x – 6.095", "R2=0.708", "n=622"], "font": "Lato", "fontSize": 10, "color": "#777", "align": "left", "baseline": "top", "lineHeight": 12}, "encoding": {"x": {"datum": 3.59, "type": "quantitative", "scale": {"domain": [2, 10], "nice": false}}, "y": {"datum": 3.22, "type": "quantitative", "scale": {"domain": [-3, 4], "nice": false}}}},
{"data": {"name": "one"}, "mark": {"type": "rule", "color": "#222", "strokeWidth": 1.5}, "encoding": {"x": {"datum": -0.449, "type": "quantitative", "scale": {"domain": [2, 10], "nice": false}}, "y": {"datum": 13.88, "type": "quantitative", "scale": {"domain": [-3, 4], "nice": false}}, "y2": {"datum": -4.5}}},
{"data": {"name": "one"}, "mark": {"type": "rule", "color": "#222", "strokeWidth": 1.5}, "encoding": {"x": {"datum": -0.449, "type": "quantitative", "scale": {"domain": [2, 10], "nice": false}}, "x2": {"datum": 11.143}, "y": {"datum": 13.88, "type": "quantitative", "scale": {"domain": [-3, 4], "nice": false}}}}
]
}
],
"config": {
"view": {"stroke": "#a6a6a6", "strokeWidth": 1.5},
"axis": {"grid": false, "tickCount": 8, "domainColor": "#999", "domainWidth": 1.5, "tickColor": "#999", "tickSize": 4, "tickWidth": 1.2, "labelFont": "Liberation Sans", "labelFontWeight": "bold", "labelFontSize": 10, "labelColor": "#222", "titleFont": "Liberation Sans", "titleFontWeight": "bold", "titleFontSize": 12, "titleColor": "#111", "labelFlush": false, "labelOverlap": false}
}
}
